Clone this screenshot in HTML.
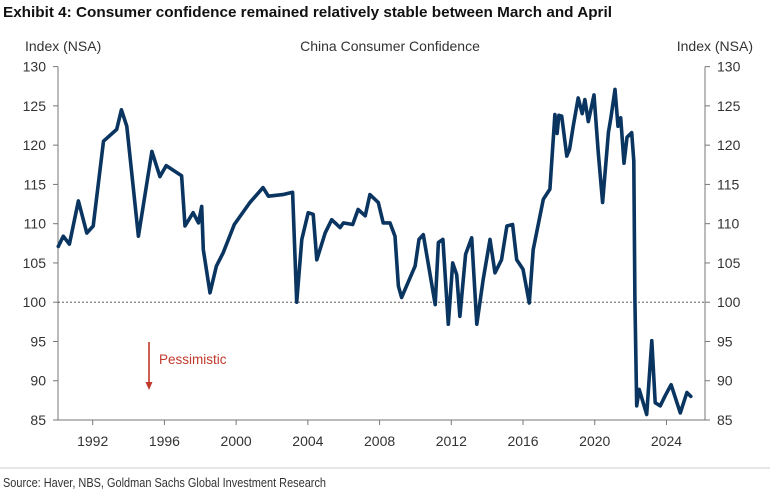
<!DOCTYPE html>
<html><head><meta charset="utf-8"><style>
html,body{margin:0;padding:0;background:#fff;}
svg{display:block;font-family:"Liberation Sans",Arial,sans-serif;}
</style></head><body>
<svg id="chart" width="770" height="492" viewBox="0 0 770 492">
<text x="3" y="17" font-size="15" font-weight="bold" fill="#111" textLength="609" lengthAdjust="spacingAndGlyphs">Exhibit 4: Consumer confidence remained relatively stable between March and April</text>
<text x="25" y="51" font-size="14" fill="#333">Index (NSA)</text>
<text x="390" y="51" font-size="14" fill="#333" text-anchor="middle">China Consumer Confidence</text>
<text x="753" y="51" font-size="14" fill="#333" text-anchor="end">Index (NSA)</text>
<g id="axes"></g>
<g id="series"></g>
<line x1="149" y1="342" x2="149" y2="385" stroke="#c0392b" stroke-width="1.6"/>
<polygon points="145.5,382 152.5,382 149,390" fill="#c0392b"/>
<text x="159" y="364" font-size="13.5" fill="#c0392b">Pessimistic</text>
<line x1="0" y1="468" x2="770" y2="468" stroke="#ccc" stroke-width="1"/>
<text x="3" y="487" font-size="12.5" fill="#333" textLength="323" lengthAdjust="spacingAndGlyphs">Source: Haver, NBS, Goldman Sachs Global Investment Research</text>
</svg>
<script>
const yTicks = [85, 90, 95, 100, 105, 110, 115, 120, 125, 130];
const xTickYears = [1992, 1996, 2000, 2004, 2008, 2012, 2016, 2020, 2024];
const years = [1990.08,1990.36,1990.7,1991.2,1991.67,1992.03,1992.6,1993.34,1993.6,1993.9,1994.55,1995.3,1995.75,1996.1,1996.96,1997.15,1997.6,1997.9,1998.08,1998.17,1998.54,1998.9,1999.28,1999.9,2000.77,2001.5,2001.8,2002.6,2003.15,2003.38,2003.66,2004.02,2004.3,2004.5,2004.96,2005.33,2005.8,2005.98,2006.5,2006.8,2007.2,2007.46,2007.93,2008.2,2008.58,2008.86,2009.05,2009.23,2009.5,2009.98,2010.2,2010.44,2010.8,2011.1,2011.28,2011.53,2011.83,2012.08,2012.3,2012.48,2012.8,2013.14,2013.42,2013.78,2014.16,2014.44,2014.8,2015.1,2015.42,2015.65,2016.0,2016.35,2016.57,2017.13,2017.5,2017.78,2017.9,2018.0,2018.16,2018.44,2018.6,2018.8,2019.08,2019.3,2019.45,2019.64,2019.96,2020.2,2020.44,2020.76,2020.9,2021.13,2021.3,2021.45,2021.63,2021.8,2022.06,2022.18,2022.24,2022.34,2022.48,2022.9,2023.18,2023.37,2023.65,2023.93,2024.26,2024.77,2025.14,2025.36];
const values = [107.1,108.4,107.4,112.9,108.8,109.7,120.5,122.0,124.5,122.4,108.4,119.2,116.0,117.4,116.1,109.7,111.4,110.1,112.2,106.7,101.2,104.6,106.3,109.9,112.7,114.6,113.5,113.7,114.0,100.0,108.0,111.4,111.2,105.4,108.8,110.5,109.5,110.1,109.9,111.8,111.0,113.7,112.7,110.1,110.1,108.4,102.05,100.6,102.05,104.6,108.0,108.6,103.75,99.7,107.6,108.0,97.2,105.0,103.5,98.2,106.1,108.2,97.2,102.9,108.0,103.75,105.4,109.7,109.9,105.4,104.2,99.9,106.7,113.1,114.4,123.9,121.5,123.8,123.7,118.6,119.5,122.4,126.0,124.0,125.8,123.0,126.4,119.0,112.7,121.6,123.5,127.1,122.4,123.5,117.7,121.0,121.6,118.0,100.4,86.8,88.9,85.7,95.1,87.2,86.8,88.1,89.5,85.9,88.5,88.0];

const NS = 'http://www.w3.org/2000/svg';
const X0 = 58, X1 = 705, Y0 = 420;
function xScale(yr){ return 92.7 + (yr - 1992) * 17.93; }
function yScale(v){ return 420 - (v - 85) * 7.853; }
function mk(tag, attrs, parent){ const e = document.createElementNS(NS, tag); for (const k in attrs) e.setAttribute(k, attrs[k]); parent.appendChild(e); return e; }
const axes = document.getElementById('axes');
const series = document.getElementById('series');

let e;
e = mk('line', {x1:X0, y1:yScale(130), x2:X0, y2:Y0, stroke:'#777', 'stroke-width':1}, axes);


e = mk('line', {x1:X1, y1:yScale(130), x2:X1, y2:Y0, stroke:'#777', 'stroke-width':1}, axes);


e = mk('line', {x1:X0, y1:Y0, x2:X1, y2:Y0, stroke:'#777', 'stroke-width':1}, axes);


e = mk('line', {x1:X0, y1:yScale(100), x2:X1, y2:yScale(100), stroke:'#444', 'stroke-width':0.8, 'stroke-dasharray':'2,2'}, axes);



yTicks.forEach(v => {
  const y = yScale(v);
  let t = mk('line', {x1:X0-5, y1:y, x2:X0, y2:y, stroke:'#777'}, axes);
  
  
  t = mk('line', {x1:X1, y1:y, x2:X1+5, y2:y, stroke:'#777'}, axes);
  
  
  let l = mk('text', {x:46, y:y+5, 'font-size':14, fill:'#333', 'text-anchor':'end'}, axes);
  l.textContent = v;
  
  
  l = mk('text', {x:717, y:y+5, 'font-size':14, fill:'#333'}, axes);
  l.textContent = v;
  
  
});
xTickYears.forEach(yr => {
  const x = xScale(yr);
  let t = mk('line', {x1:x, y1:Y0, x2:x, y2:Y0+5, stroke:'#777'}, axes);
  
  
  let l = mk('text', {x:x, y:446, 'font-size':14, fill:'#333', 'text-anchor':'middle'}, axes);
  l.textContent = yr;
  
  
});

const d = years.map((yr, i) => (i ? 'L' : 'M') + xScale(yr).toFixed(1) + ',' + yScale(values[i]).toFixed(1)).join(' ');
const p = mk('path', {d:d, fill:'none', stroke:'#0a3560', 'stroke-width':3.6, 'stroke-linejoin':'round', 'stroke-linecap':'round'}, series);


</script>
</body></html>
